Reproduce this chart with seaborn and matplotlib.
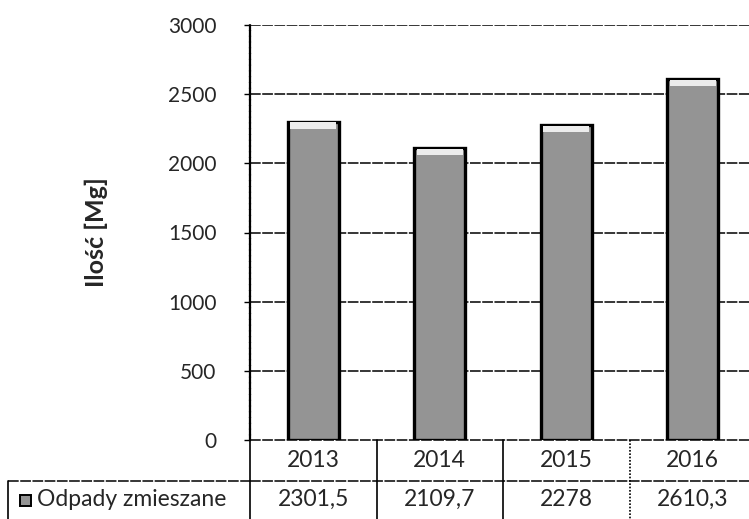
import pandas as pd
import matplotlib.pyplot as plt
import seaborn as sns
from matplotlib.patches import Rectangle

# Dane
lata = ["2013", "2014", "2015", "2016"]
wartosci = [2301.5, 2109.7, 2278, 2610.3]
etykiety_wartosci = ["2301,5", "2109,7", "2278", "2610,3"]
seria = "Odpady zmieszane"
yticks = [0, 500, 1000, 1500, 2000, 2500, 3000]

df = pd.DataFrame({"Rok": lata, "Ilosc": wartosci})

sns.set_theme(style="white")
plt.rcParams["font.family"] = ["Lato", "DejaVu Sans"]

fig = plt.figure(figsize=(7.49, 5.19), dpi=100)
ax = fig.add_axes([250 / 749, 79 / 519, 506 / 749, 415 / 519])

sns.barplot(data=df, x="Rok", y="Ilosc", color="#949494", width=0.4,
            edgecolor="black", linewidth=2.4, saturation=1, ax=ax, zorder=3)

# jasniejszy wierzch slupka
for p in ax.patches[:len(lata)]:
    ax.add_patch(Rectangle((p.get_x() + 0.02, p.get_height() - 50), p.get_width() - 0.04, 44,
                           facecolor="#ececec", edgecolor="none", zorder=4))

ax.set_xlim(-0.5, 3.5)
ax.set_ylim(0, 3000)
ax.set_yticks(yticks)
ax.set_yticklabels([str(t) for t in yticks], fontsize=15)
ax.set_xticks([])
ax.set_xlabel("")
ax.set_ylabel("Ilość [Mg]", fontsize=18, fontweight="bold", labelpad=43)
ax.tick_params(axis="y", length=4, width=1, color="black", pad=20, left=True)

for t in yticks[1:]:
    ax.axhline(t, color="black", lw=1.1, ls=(0, (7, 1)), zorder=1)

for s in ["right", "bottom", "top"]:
    ax.spines[s].set_visible(False)
ax.spines["left"].set_color("black")
ax.spines["left"].set_linewidth(1.6)
ax.spines["left"].set_linestyle((0, (2, 0.6)))

# tabela danych pod wykresem
tr = ax.get_xaxis_transform()
r1 = -41 / 415
r2 = -82 / 415
ax.plot([-0.5, 3.5], [0, 0], transform=tr, color="black", lw=1.1, ls=(0, (7, 1)), clip_on=False)
ax.plot([-0.5, 3.5], [r1, r1], transform=tr, color="black", lw=1.1, ls=(0, (7, 1)), clip_on=False)
ax.plot([-0.5, -0.5], [0, r2], transform=tr, color="black", lw=1.2, clip_on=False)
for i, x in enumerate([0.5, 1.5, 2.5]):
    ax.plot([x, x], [0, r2], transform=tr, color="black", lw=1.2,
            ls="-" if i < 2 else (0, (1, 1)), clip_on=False)

for i, (rok, w) in enumerate(zip(lata, etykiety_wartosci)):
    ax.text(i, r1 / 2, rok, transform=tr, ha="center", va="center", fontsize=16.5)
    ax.text(i, (r1 + r2) / 2 + 0.005, w, transform=tr, ha="center", va="center", fontsize=16.5)

# komorka legendy
fig.add_artist(plt.Line2D([8 / 749, 250 / 749], [38 / 519, 38 / 519], color="black",
                          lw=1.1, ls=(0, (7, 1))))
fig.add_artist(plt.Line2D([8 / 749, 8 / 749], [0, 38 / 519], color="black", lw=1.2))
fig.add_artist(Rectangle((20 / 749, 13 / 519), 11 / 749, 11 / 519, facecolor="#949494",
                         edgecolor="black", lw=1.4))
fig.text(37 / 749, 19 / 519, seria, ha="left", va="center", fontsize=16.5)

fig.savefig("out.png", dpi=100)
